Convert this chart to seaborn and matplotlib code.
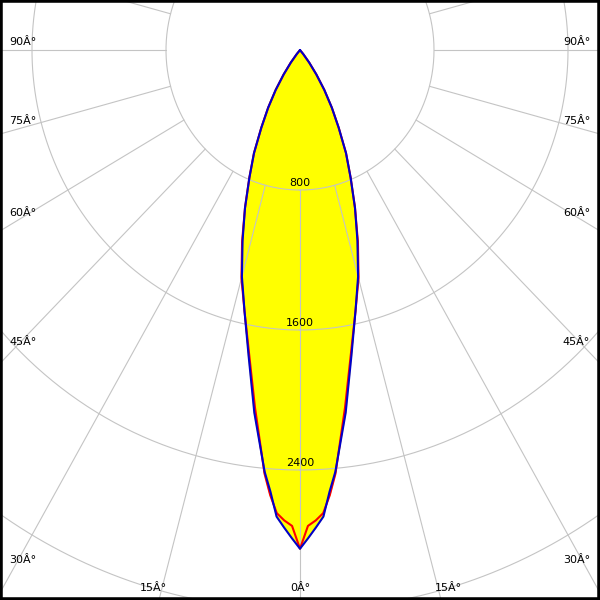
import numpy as np
import pandas as pd
import seaborn as sns
import matplotlib.pyplot as plt

# Polar light distribution (cd), gamma angle measured from nadir, symmetric curves
angles = [0, 1, 2, 3, 4, 5, 7.5, 10, 12.5, 15, 17.5, 20, 22.5, 25, 27.5, 30,
          32.5, 35, 37.5, 40, 42.5, 45, 60, 75, 90]
blue_cd = [2850, 2790, 2730, 2670, 2530, 2420, 2090, 1770, 1530, 1340, 1140, 960,
           790, 650, 500, 380, 270, 170, 90, 30, 0, 0, 0, 0, 0]
red_cd = [2850, 2720, 2690, 2650, 2550, 2430, 2060, 1755, 1530, 1350, 1150, 960,
          790, 650, 500, 380, 270, 170, 90, 30, 0, 0, 0, 0, 0]

ring_values = [800, 1600, 2400, 3200]
ring_labels = ["800", "1600", "2400"]
spoke_angles = list(range(0, 360, 15))
angle_labels = ["0Â°", "15Â°", "30Â°", "45Â°", "60Â°", "75Â°", "90Â°"]


def to_xy(ang, cd):
    # mirror the half curve to get the full outline
    a = np.radians(np.concatenate([-np.array(ang)[::-1], np.array(ang)[1:]]))
    r = np.concatenate([np.array(cd)[::-1], np.array(cd)[1:]])
    return pd.DataFrame({"x": r * np.sin(a), "y": -r * np.cos(a)})


sns.set_style("white")
plt.rcParams["text.color"] = "black"
fig = plt.figure(figsize=(6, 6), dpi=100)
ax = fig.add_axes([0, 0, 1, 1])

red = to_xy(angles, red_cd)
blue = to_xy(angles, blue_cd)
ax.fill(red["x"], red["y"], color="#ffff00", zorder=1)
ax.fill(blue["x"], blue["y"], color="#ffff00", zorder=1)

# grid: rings and spokes
t = np.linspace(0, 2 * np.pi, 721)
for rv in ring_values:
    ax.plot(rv * np.sin(t), -rv * np.cos(t), color="#c4c4c4", lw=0.8, zorder=2)
for sa in spoke_angles:
    a = np.radians(sa)
    ax.plot([800 * np.sin(a), 5000 * np.sin(a)], [-800 * np.cos(a), -5000 * np.cos(a)],
            color="#c4c4c4", lw=0.8, zorder=2)

sns.lineplot(data=red, x="x", y="y", sort=False, estimator=None, color="#ff0000",
             lw=1.5, ax=ax, zorder=3)
sns.lineplot(data=blue, x="x", y="y", sort=False, estimator=None, color="#0000cc",
             lw=1.5, ax=ax, zorder=4)

ax.set_xlim(-1791, 1791)
ax.set_ylim(-3143, 286)
ax.set_xticks([])
ax.set_yticks([])
ax.set_xlabel("")
ax.set_ylabel("")
for s in ax.spines.values():
    s.set_color("black")
    s.set_linewidth(4)

# intensity labels just above each ring on the nadir axis
for lab, ypx in zip(ring_labels, [183, 323, 463]):
    ax.text(0.5, 1 - ypx / 600, lab, transform=ax.transAxes, ha="center", va="center",
            fontsize=8, color="black", zorder=5)

# angle labels along the frame
left_pos = {"90Â°": 42, "75Â°": 121, "60Â°": 213, "45Â°": 342, "30Â°": 560}
for lab, ypx in left_pos.items():
    ax.text(9 / 600, 1 - ypx / 600, lab, transform=ax.transAxes, ha="left", va="center",
            fontsize=8, color="black")
    ax.text(590 / 600, 1 - ypx / 600, lab, transform=ax.transAxes, ha="right", va="center",
            fontsize=8, color="black")
ax.text(140 / 600, 1 - 588 / 600, angle_labels[1], transform=ax.transAxes, ha="left", va="center",
        fontsize=8, color="black")
ax.text(435 / 600, 1 - 588 / 600, angle_labels[1], transform=ax.transAxes, ha="left", va="center",
        fontsize=8, color="black")
ax.text(0.5, 1 - 588 / 600, angle_labels[0], transform=ax.transAxes, ha="center", va="center",
        fontsize=8, color="black")

fig.savefig("out.png", dpi=100)
